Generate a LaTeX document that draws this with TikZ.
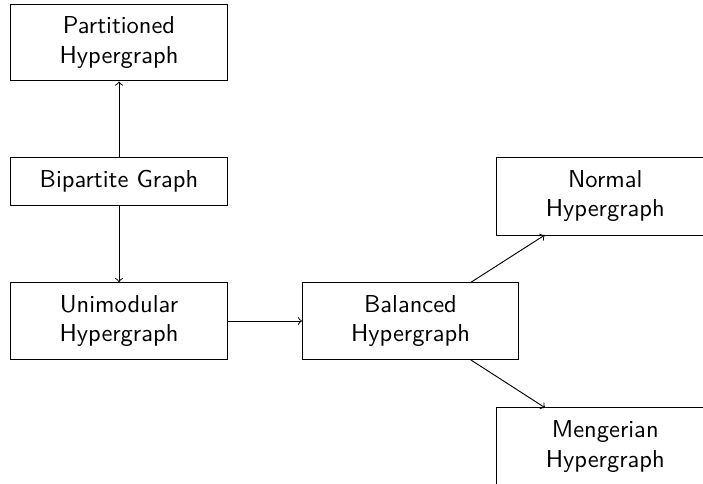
\documentclass[tikz,border=0pt]{standalone}
\usetikzlibrary{arrows.meta}
\begin{document}
\begin{tikzpicture}[x=0.429pt,y=-0.429pt,>=to,
  box/.style={draw, font=\sffamily\fontsize{10.5}{12.6}\selectfont, align=center, text width=88.7pt,
    minimum width=92.7pt, minimum height=32.9pt, inner xsep=2pt, inner ysep=2pt},
  onebox/.style={box, minimum height=20.2pt},
  openbox/.style={box, draw=none}]
\useasboundingbox (0,0) rectangle (703,484);
\clip (0,0) rectangle (703,484);
\node[box] (part) at (119,42.6) {Partitioned\\Hypergraph};
\node[onebox] (bip) at (119,181.5) {Bipartite Graph};
\node[box] (uni) at (119,321) {Unimodular\\Hypergraph};
\node[box] (bal) at (410.5,321) {Balanced\\Hypergraph};
\node[openbox] (nor) at (605.3,196.3) {Normal\\Hypergraph};
\node[openbox] (men) at (605.3,446.6) {Mengerian\\Hypergraph};
\draw (nor.north west) rectangle ([xshift=30pt]nor.south east);
\draw (men.north west) rectangle ([xshift=30pt,yshift=-10pt]men.south east);
\draw[->] (bip) -- (part);
\draw[->] (bip) -- (uni);
\draw[->] (uni) -- (bal);
\draw[->] (bal) -- (nor);
\draw[->] (bal) -- (men);
\end{tikzpicture}
\end{document}
